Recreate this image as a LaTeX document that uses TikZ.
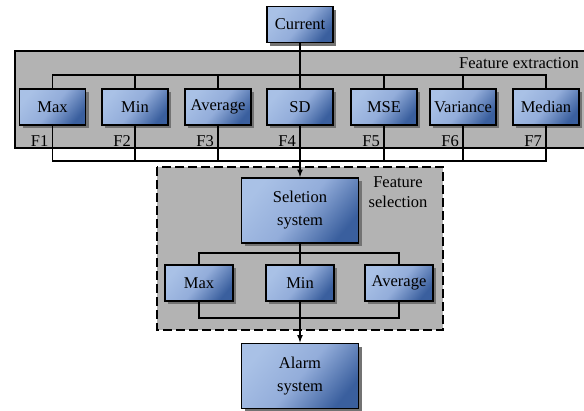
\documentclass[tikz,border=0pt]{standalone}
\usepackage{fontspec}
\setmainfont{Liberation Serif}
\usetikzlibrary{shapes}
\usetikzlibrary{arrows}
\usetikzlibrary{shadows}

\definecolor{boxlight}{HTML}{A9C1E6}
\definecolor{boxmid}{HTML}{93ADDA}
\definecolor{boxdark}{HTML}{3A5F9E}
\definecolor{panelgray}{HTML}{B3B3B3}

\tikzset{
  fbox/.style={draw=black, line width=1.8pt, inner sep=0pt,
    minimum width=66pt, minimum height=36pt,
    top color=boxlight, bottom color=boxdark, middle color=boxmid, shading angle=50,
    drop shadow={shadow xshift=3pt, shadow yshift=-3pt, fill=black!55, opacity=1},
    font=\fontsize{16.5}{23}\selectfont, align=center},
  bigbox/.style={fbox, minimum width=117pt, minimum height=65pt},
  wire/.style={line width=1.6pt},
  flabel/.style={anchor=east, inner sep=0pt, font=\fontsize{16.5}{20}\selectfont},
  panel/.style={fill=panelgray, draw=black, line width=2pt}
}

\begin{document}
\begin{tikzpicture}[x=1pt, y=-1pt]

\useasboundingbox (0,0) rectangle (584,410);

%Draw panels
\begin{scope}
\clip (0,0) rectangle (584,410);
\draw[panel] (15,51) rectangle (600,148);
\end{scope}
\draw[panel, line width=2.6pt, dash pattern=on 9pt off 4pt] (157,167) rectangle (443,330);

\node[flabel] (fextract) at (579,63) {Feature extraction};
\node[inner sep=0pt, align=center, font=\fontsize{16.5}{20}\selectfont] (fselect) at (398,192) {Feature\\selection};

%Draw boxes
\node[fbox] (current) at (300,24.5) {Current};

\node[fbox] (max) at (52.5,107) {Max};
\node[fbox] (min) at (135,107) {Min};
\node[fbox] (average) at (218,107) {Average};
\node[fbox] (sd) at (300,107) {SD};
\node[fbox] (mse) at (384,107) {MSE};
\node[fbox] (variance) at (463,107) {Variance};
\node[fbox] (median) at (546,107) {Median};

\node[bigbox] (seletion) at (300,210.5) {Seletion\\system};

\node[fbox, minimum width=68pt] (smax) at (199,283) {Max};
\node[fbox, minimum width=68pt] (smin) at (300,283) {Min};
\node[fbox, minimum width=68pt] (saverage) at (399,283) {Average};

\node[bigbox] (alarm) at (300,376) {Alarm\\system};

%Draw labels
\foreach \f/\n in {max/1, min/2, average/3, sd/4, mse/5, variance/6, median/7} {
\node[flabel] (f\n) at ([xshift=-4pt, yshift=-15pt]\f.south) {F\n};
}

%Draw wires
\coordinate (topbus) at (0,75);
\coordinate (botbus) at (0,161);
\coordinate (stopbus) at (0,253);
\coordinate (sbotbus) at (0,318);

\draw[wire] (current.south) -- (sd.north);
\draw[wire] (max.north) |- (topbus -| median) -- (median.north);
\draw[wire] (max.south) |- (botbus -| median) -- (median.south);
\foreach \f in {min, average, sd, mse, variance} {
\draw[wire] (\f.north) -- (\f.north |- topbus);
\draw[wire] (\f.south) -- (\f.south |- botbus);
}
\draw[wire, -latex] (sd.south |- botbus) -- (seletion.north);

\draw[wire] (seletion.south) -- (smin.north);
\draw[wire] (smax.north) |- (stopbus -| saverage) -- (saverage.north);
\draw[wire] (smax.south) |- (sbotbus -| saverage) -- (saverage.south);
\draw[wire] (smin.south) -- (smin.south |- sbotbus);
\draw[wire, -latex] (smin.south |- sbotbus) -- (alarm.north);

\end{tikzpicture}
\end{document}
